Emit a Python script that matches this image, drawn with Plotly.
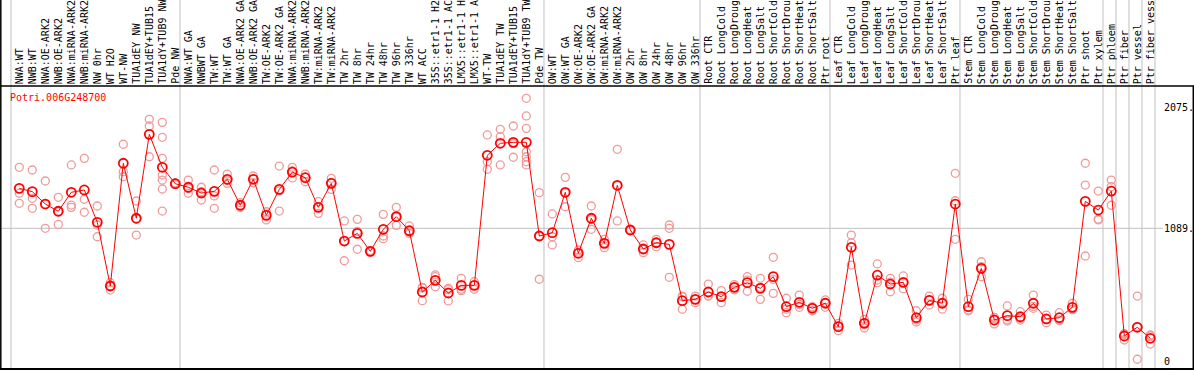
import plotly.graph_objects as go

gene_id = "Potri.006G248700"

sample_labels = [
    "NWA:WT", "NWB:WT", "NWA:OE-ARK2", "NWB:OE-ARK2", "NWA:miRNA-ARK2", "NWB:miRNA-ARK2",
    "NW 0hr", "WT H2O", "WT-NW", "TUA1dEY NW", "TUA1dEY+TUB15", "TUA1dY+TUB9 NW", "Pde NW",
    "NWA:WT GA", "NWBWT GA", "TW:WT", "TW:WT GA", "NWA:OE-ARK2 GA", "NWB:OE-ARK2 GA",
    "TW:OE-ARK2", "TW:OE-ARK2 GA", "NWA:miRNA-ARK2", "NWB:miRNA-ARK2", "TW:miRNA-ARK2",
    "TW:miRNA-ARK2", "TW 2hr", "TW 8hr", "TW 24hr", "TW 48hr", "TW 96hr", "TW 336hr",
    "WT ACC", "35S::etr1-1 H2", "35S::etr1-1 AC", "LMX5::etr1-1 H", "LMX5::etr1-1 A",
    "WT-TW", "TUA1dEY TW", "TUA1dEY+TUB15", "TUA1dY+TUB9 TW", "Pde TW",
    "OW:WT", "OW:WT GA", "OW:OE-ARK2", "OW:OE-ARK2 GA", "OW:miRNA-ARK2", "OW:miRNA-ARK2",
    "OW 2hr", "OW 8hr", "OW 24hr", "OW 48hr", "OW 96hr", "OW 336hr",
    "Root CTR", "Root LongCold", "Root LongDroug", "Root LongHeat", "Root LongSalt",
    "Root ShortCold", "Root ShortDrou", "Root ShortHeat", "Root ShortSalt", "Ptr root",
    "Leaf CTR", "Leaf LongCold", "Leaf LongDroug", "Leaf LongHeat", "Leaf LongSalt",
    "Leaf ShortCold", "Leaf ShortDrou", "Leaf ShortHeat", "Leaf ShortSalt", "Ptr leaf",
    "Stem CTR", "Stem LongCold", "Stem LongDroug", "Stem LongHeat", "Stem LongSalt",
    "Stem ShortCold", "Stem ShortDrou", "Stem ShortHeat", "Stem ShortSalt", "Ptr shoot",
    "Ptr xylem", "Ptr phloem", "Ptr fiber", "Ptr vessel", "Ptr fiber vess",
]

mean_values = [
    1415, 1388, 1287, 1228, 1383, 1402, 1138, 618, 1620, 1171, 1856, 1587, 1453,
    1424, 1377, 1391, 1489, 1277, 1489, 1195, 1407, 1548, 1502, 1260, 1456,
    985, 1048, 901, 1081, 1184, 1069, 569, 664, 561, 623, 623,
    1685, 1783, 1791, 1791, 1026,
    1053, 1383, 885, 1171, 966, 1440, 1075, 920, 971, 958, 498, 509,
    569, 531, 607, 645, 599, 694, 449, 485, 436, 477,
    286, 934, 313, 706, 634, 648, 359, 501, 477, 1287,
    449, 762, 340, 376, 367, 477, 349, 359, 444, 1309, 1238,
    1393, 210, 281, 191,
]

replicate_values = [
    [1587, 1375, 1293], [1565, 1334, 1252], [1475, 1287, 1089], [1342, 1224, 1121],
    [1606, 1279, 1260], [1660, 1326, 1220], [1271, 1116, 1020], [645, 618, 585],
    [1775, 1551, 1510], [1312, 1167, 1034], [1979, 1924, 1673],
    [1954, 1832, 1660, 1524, 1483, 1410, 1230], [1460, 1453, 1446],
    [1483, 1414, 1375], [1424, 1387, 1320], [1565, 1353, 1252], [1532, 1479, 1456],
    [1298, 1273, 1260], [1516, 1490, 1461], [1224, 1204, 1157], [1597, 1394, 1230],
    [1587, 1557, 1500], [1532, 1505, 1469], [1306, 1263, 1211], [1497, 1464, 1407],
    [1149, 982, 824], [1162, 1064, 918], [907, 901, 895], [1203, 1026, 1004],
    [1260, 1179, 1113], [1108, 1051, 1048], [607, 602, 498], [708, 694, 612],
    [599, 588, 496], [681, 591, 580], [653, 625, 591],
    [1851, 1633, 1571], [1897, 1837, 1606], [1924, 1780, 1669],
    [2150, 2006, 1905, 1714, 1673, 1633, 1606], [1380, 1025, 673],
    [1206, 1020, 953], [1505, 1379, 1265], [912, 894, 849], [1271, 1161, 1081],
    [999, 968, 931], [1734, 1437, 1149], [1080, 1075, 1070], [953, 917, 890],
    [999, 975, 939], [1116, 1089, 689], [536, 530, 428], [536, 509, 482],
    [634, 537, 536], [580, 531, 482], [630, 605, 586], [694, 666, 575],
    [681, 607, 509], [852, 672, 558], [518, 429, 400], [544, 467, 444],
    [449, 443, 416], [504, 483, 444],
    [313, 292, 253], [1034, 971, 789], [346, 318, 275], [798, 667, 645],
    [681, 650, 571], [700, 648, 596], [416, 340, 324], [536, 504, 463],
    [518, 483, 430], [1538, 1314, 999],
    [509, 416, 422], [816, 776, 694], [362, 350, 308], [455, 341, 332],
    [408, 353, 340], [544, 451, 436], [381, 348, 318], [400, 340, 337],
    [477, 430, 425], [1620, 1442, 863], [1393, 1164, 1157],
    [1483, 1429, 1277], [230, 222, 177], [536, 287, 20], [218, 211, 144],
]

tick_values = [2075, 1089, 0]
tick_texts = ["2075.", "1089.", "0"]
grid_value = 1089
group_boundaries = [0.5, 13.5, 41.5, 53.5, 63.5, 73.5, 84.5, 85.5, 86.5, 87.5, 88.5]

# ---------------- layout geometry ----------------
W, H = 1194, 370
FONT = "DejaVu Sans Mono"
x_idx = list(range(1, len(mean_values) + 1))
x0 = 1 - 19.3 / 13.0
x1 = x0 + W / 13.0
v_per_px = 1089 / 133.4
y1 = 361.7 * v_per_px
y0 = y1 - H * v_per_px


def py(p):
    return 1 - p / H


def px(p):
    return p / W


rep_x, rep_y = [], []
for i, reps in enumerate(replicate_values):
    for v in reps:
        rep_x.append(i + 1)
        rep_y.append(v)

fig = go.Figure()
fig.add_trace(go.Scatter(
    x=rep_x, y=rep_y, mode="markers",
    marker=dict(symbol="circle-open", size=8, color="#f09a9a", line=dict(width=1.3, color="#f09a9a")),
    hoverinfo="skip", showlegend=False,
))
fig.add_trace(go.Scatter(
    x=x_idx, y=mean_values, mode="lines+markers",
    line=dict(color="#ff0000", width=1),
    marker=dict(symbol="circle-open", size=9, color="#ff0000", line=dict(width=1.8, color="#ff0000")),
    showlegend=False,
))

shapes = []
grey = "#c0c0c0"
for b in group_boundaries:
    shapes.append(dict(type="line", xref="x", yref="paper", x0=b - 0.14, x1=b - 0.14,
                       y0=0, y1=1, line=dict(color=grey, width=1), layer="below"))
shapes.append(dict(type="line", xref="paper", yref="y", x0=0, x1=px(1163),
                   y0=grid_value, y1=grid_value, line=dict(color=grey, width=1), layer="below"))
# frame lines
shapes.append(dict(type="line", xref="paper", yref="paper", x0=0, x1=1, y0=py(86), y1=py(86),
                   line=dict(color="black", width=1.5)))
shapes.append(dict(type="line", xref="paper", yref="paper", x0=0, x1=1, y0=py(369), y1=py(369),
                   line=dict(color="black", width=2)))
shapes.append(dict(type="line", xref="paper", yref="paper", x0=px(0.8), x1=px(0.8), y0=0, y1=1,
                   line=dict(color="black", width=1.5)))
shapes.append(dict(type="line", xref="paper", yref="paper", x0=px(1193.3), x1=px(1193.3), y0=py(86), y1=0,
                   line=dict(color="black", width=1.5)))

annotations = []
for i, lab in enumerate(sample_labels):
    annotations.append(dict(
        x=i + 1, xref="x", y=py(85), yref="paper", text=lab, textangle=-90,
        xanchor="center", yanchor="bottom", showarrow=False,
        font=dict(family=FONT, size=10, color="black"), borderpad=0,
    ))
annotations.append(dict(
    x=px(9), xref="paper", y=py(97), yref="paper", text=gene_id, xanchor="left", yanchor="middle",
    showarrow=False, font=dict(family=FONT, size=10, color="#ff0000"), borderpad=0,
))
for v, t in zip(tick_values, tick_texts):
    annotations.append(dict(
        x=px(1163), xref="paper", y=v, yref="y", text=t, xanchor="left", yanchor="middle",
        showarrow=False, font=dict(family=FONT, size=10, color="black"), borderpad=0,
    ))

fig.update_layout(
    width=W, height=H, margin=dict(l=0, r=0, t=0, b=0),
    paper_bgcolor="white", plot_bgcolor="white",
    xaxis=dict(range=[x0, x1], visible=False, fixedrange=True),
    yaxis=dict(range=[y0, y1], visible=False, fixedrange=True),
    shapes=shapes, annotations=annotations, showlegend=False,
)

fig.write_html("out.html", config={"displayModeBar": False},
               post_script="document.body.style.margin='0';document.body.style.overflow='hidden';")
